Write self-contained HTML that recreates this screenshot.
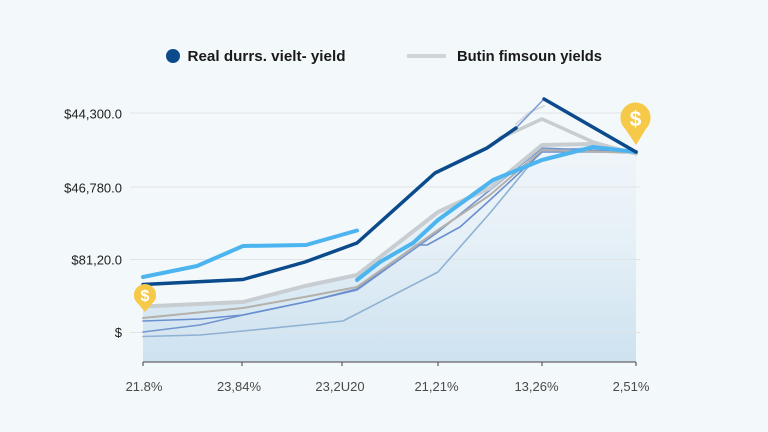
<!DOCTYPE html>
<html><head><meta charset="utf-8"><style>
html,body{margin:0;padding:0;background:#f3f8fb;}
svg{display:block;}
</style></head><body>
<svg width="768" height="432" viewBox="0 0 768 432" xmlns="http://www.w3.org/2000/svg" font-family="Liberation Sans, sans-serif">
<defs>
<linearGradient id="fg" gradientUnits="userSpaceOnUse" x1="0" y1="140" x2="0" y2="362">
<stop offset="0" stop-color="#f0f6fa"/>
<stop offset="0.45" stop-color="#e6f0f7"/>
<stop offset="1" stop-color="#cde2f0"/>
</linearGradient>
</defs>
<rect width="768" height="432" fill="#f3f8fb"/>
<!-- fill -->
<path d="M143,306 L243,302 L305,286 L357,275 L438,212 L490,188 L542,145 L590,144 L636,152 L636,362 L143,362 Z" fill="url(#fg)"/>
<!-- gridlines -->
<g stroke="#e0e4e7" stroke-width="1">
<line x1="130" y1="113" x2="640" y2="113"/>
<line x1="130" y1="187" x2="640" y2="187"/>
<line x1="130" y1="259.5" x2="640" y2="259.5"/>
<line x1="130" y1="332.5" x2="640" y2="332.5"/>
</g>
<!-- y labels -->
<g font-size="13" fill="#222" text-anchor="end">
<text x="122" y="118.5">$44,300.0</text>
<text x="122" y="192.5">$46,780.0</text>
<text x="122" y="264.5">$81,20.0</text>
<text x="122" y="337">$</text>
</g>
<!-- axis -->
<g stroke="#666" stroke-width="1.3">
<line x1="143" y1="362" x2="636" y2="362"/>
<line x1="143" y1="362" x2="143" y2="366"/>
<line x1="242" y1="362" x2="242" y2="366"/>
<line x1="342" y1="362" x2="342" y2="366"/>
<line x1="438" y1="362" x2="438" y2="366"/>
<line x1="542" y1="362" x2="542" y2="366"/>
<line x1="636" y1="362" x2="636" y2="366"/>
</g>
<g font-size="13" fill="#4a4a4a" text-anchor="middle">
<text x="144" y="391">21.8%</text>
<text x="239" y="391">23,84%</text>
<text x="340" y="391">23,2U20</text>
<text x="436.5" y="391">21,21%</text>
<text x="536.5" y="391">13,26%</text>
<text x="631" y="391">2,51%</text>
</g>
<!-- series -->
<g fill="none" stroke-linejoin="round" stroke-linecap="round">
<polyline points="143,336.5 200,335 243,331 343,321 438,272 490,213 542,150 593,148 636,152" stroke="#8fb1d3" stroke-width="1.6"/>
<polyline points="143,332 200,325 243,315 310,301 357,290 438,232 490,190 542,148 636,152" stroke="#7394cf" stroke-width="1.6"/>
<polyline points="143,321 200,319 243,315 310,301 357,289 416,245 427,245 460,227 490,200 542,152 567,152 636,152" stroke="#6a8fd0" stroke-width="1.6"/>
<polyline points="143,318 243,308 310,296 357,287 438,230 490,195 542,150 636,153" stroke="#b4b0aa" stroke-width="2"/>
<polyline points="143,306.5 243,302 305,286 357,275 438,212 490,188 542,145 590,144 636,153" stroke="#c7cdd1" stroke-width="4"/>
<polyline points="500,138 516,131 542,119 593,142 636,154" stroke="#c7cdd1" stroke-width="3.5"/>
<polyline points="516,124 530,112 544,106" stroke="#d3d9de" stroke-width="2"/>
<polyline points="357,280 380,262 413,243 438,220 493,180 542,160 593,147 636,152" stroke="#4cb4ef" stroke-width="4"/>
<polyline points="143,277 197,266 243,246 306,245 357,230.5" stroke="#4cb4ef" stroke-width="4"/>
<polyline points="516,128 544,99" stroke="#7d9ed6" stroke-width="1.6"/>
<polyline points="143,284.5 243,279.5 305,262 357,243 435,173 487,148 516,128" stroke="#0b4a8b" stroke-width="3.5"/>
<polyline points="544,99 636,152" stroke="#0b4a8b" stroke-width="3.5"/>
</g>
<!-- markers -->
<g>
<path d="M622,124 A15,15 0 1 1 649,124 L636,145 Z" fill="#f7c948"/>
<circle cx="635.5" cy="118" r="15" fill="#f7c948"/>
<text x="635.5" y="126" font-size="21" font-weight="bold" fill="#fff" text-anchor="middle">$</text>
<path d="M135,300 A11,11 0 1 1 155,300 L145,312 Z" fill="#f7c948"/>
<circle cx="145" cy="295" r="11" fill="#f7c948"/>
<text x="145" y="301" font-size="16" font-weight="bold" fill="#fff" text-anchor="middle">$</text>
</g>
<!-- legend -->
<circle cx="173" cy="56" r="7" fill="#0b4a8b"/>
<text x="187.5" y="61" font-size="15" font-weight="bold" fill="#1a1a1a" textLength="158" lengthAdjust="spacingAndGlyphs">Real durrs. vielt- yield</text>
<line x1="407" y1="56" x2="446" y2="56" stroke="#cfd6da" stroke-width="4"/>
<text x="457" y="61" font-size="15" font-weight="bold" fill="#1a1a1a" textLength="145" lengthAdjust="spacingAndGlyphs">Butin fimsoun yields</text>
</svg>
</body></html>
